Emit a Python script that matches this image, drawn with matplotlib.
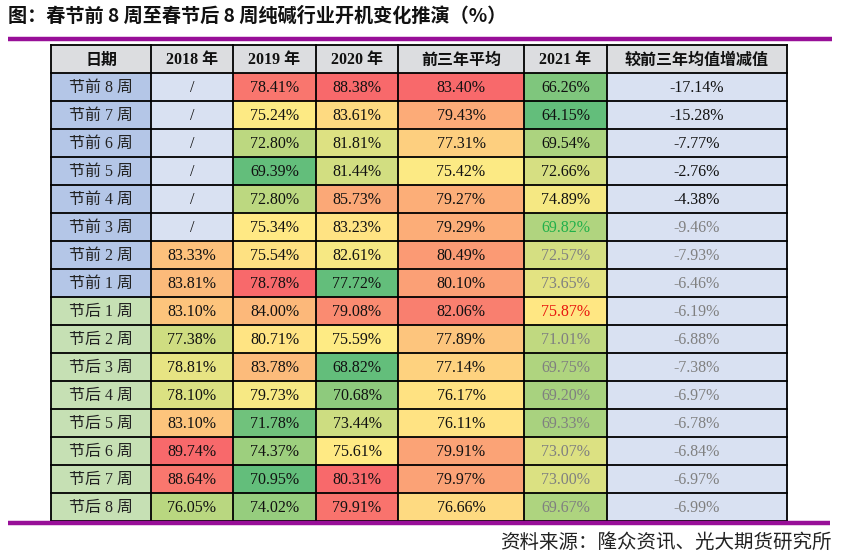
import numpy as np
import matplotlib
matplotlib.use("Agg")
import matplotlib.pyplot as plt
from matplotlib.patches import Rectangle
from matplotlib.colors import LinearSegmentedColormap

# ---------------- data ----------------
title = "图：春节前 8 周至春节后 8 周纯碱行业开机变化推演（%）"
source = "资料来源：隆众资讯、光大期货研究所"
headers = ["日期", "2018 年", "2019 年", "2020 年", "前三年平均", "2021 年", "较前三年均值增减值"]
weeks = ["节前 8 周", "节前 7 周", "节前 6 周", "节前 5 周", "节前 4 周", "节前 3 周", "节前 2 周", "节前 1 周",
         "节后 1 周", "节后 2 周", "节后 3 周", "节后 4 周", "节后 5 周", "节后 6 周", "节后 7 周", "节后 8 周"]
y2018 = [None, None, None, None, None, None, 83.33, 83.81, 83.10, 77.38, 78.81, 78.10, 83.10, 89.74, 88.64, 76.05]
y2019 = [78.41, 75.24, 72.80, 69.39, 72.80, 75.34, 75.54, 78.78, 84.00, 80.71, 83.78, 79.73, 71.78, 74.37, 70.95, 74.02]
y2020 = [88.38, 83.61, 81.81, 81.44, 85.73, 83.23, 82.61, 77.72, 79.08, 75.59, 68.82, 70.68, 73.44, 75.61, 80.31, 79.91]
avg3 = [83.40, 79.43, 77.31, 75.42, 79.27, 79.29, 80.49, 80.10, 82.06, 77.89, 77.14, 76.17, 76.11, 79.91, 79.97, 76.66]
y2021 = [66.26, 64.15, 69.54, 72.66, 74.89, 69.82, 72.57, 73.65, 75.87, 71.01, 69.75, 69.20, 69.33, 73.07, 73.00, 69.67]
diff = [-17.14, -15.28, -7.77, -2.76, -4.38, -9.46, -7.93, -6.46, -6.19, -6.88, -7.38, -6.97, -6.78, -6.84, -6.97, -6.99]

# colour-scale groups (column index, row indices)
pre = list(range(0, 8))
post = list(range(8, 16))
groups = [
    [(1, [6, 7] + post), (2, post)],
    [(2, pre)],
    [(3, pre)],
    [(3, post)],
    [(4, pre + post), (5, pre + post)],
]

# ---------------- style ----------------
cols = [y2018, y2019, y2020, avg3, y2021]
col_x = [51, 151, 233, 316, 398, 524, 607, 787]
top, row_h = 45, 28.0
n_rows = len(weeks) + 1

cmap = LinearSegmentedColormap.from_list("ryg", ["#63BE7B", "#FFEB84", "#F8696B"])

SERIF = ["Liberation Serif", "Noto Sans CJK SC"]
CJK = ["Noto Sans CJK SC", "DejaVu Sans"]

fig = plt.figure(figsize=(8.42, 5.60), dpi=100)
ax = fig.add_axes([0, 0, 1, 1])
ax.set_xlim(0, 842)
ax.set_ylim(560, 0)
ax.axis("off")

# compute fill colours via per-group 3-colour scale (min / median / max)
fills = {}
for g in groups:
    vals = np.array([cols[c - 1][r] for c, rows in g for r in rows], dtype=float)
    vmin, vmed, vmax = vals.min(), np.percentile(vals, 50), vals.max()
    for c, rows in g:
        for r in rows:
            v = cols[c - 1][r]
            if v <= vmed:
                t = 0.5 * (v - vmin) / (vmed - vmin)
            else:
                t = 0.5 + 0.5 * (v - vmed) / (vmax - vmed)
            fills[(c, r)] = cmap(t)

def cell(x0, x1, y0, fc):
    ax.add_patch(Rectangle((x0, y0), x1 - x0, row_h, facecolor=fc, edgecolor="none", zorder=1))

# header
for j, h in enumerate(headers):
    cell(col_x[j], col_x[j + 1], top, "#DCDDE0")
    ax.text((col_x[j] + col_x[j + 1]) / 2, top + row_h / 2 + 1, h, ha="center", va="center",
            fontsize=11.5, fontweight="bold", family=SERIF if j in (1, 2, 3, 5) else CJK, color="#111111")

gray = "#808080"
for i, w in enumerate(weeks):
    y0 = top + row_h * (i + 1)
    yc = y0 + row_h / 2 + 1
    cell(col_x[0], col_x[1], y0, "#B4C6E7" if i < 8 else "#C6E0B4")
    ax.text((col_x[0] + col_x[1]) / 2, yc, w, ha="center", va="center", fontsize=11.5,
            family=SERIF, color="#222222")
    for c in range(1, 6):
        v = cols[c - 1][i]
        x0, x1 = col_x[c], col_x[c + 1]
        if v is None:
            cell(x0, x1, y0, "#D9E1F2")
            ax.text((x0 + x1) / 2, yc, "/", ha="center", va="center", fontsize=11.5, family=SERIF, color="#111111")
            continue
        cell(x0, x1, y0, fills[(c, i)])
        tc = "#111111"
        if c == 5 and i >= 5:
            tc = gray
            if i == 5:
                tc = "#22B04A"
            if i == 8:
                tc = "#E8170F"
        ax.text((x0 + x1) / 2, yc, f"{v:.2f}%", ha="center", va="center", fontsize=11.5,
                family=SERIF, color=tc)
    cell(col_x[6], col_x[7], y0, "#D9E1F2")
    ax.text((col_x[6] + col_x[7]) / 2, yc, f"{diff[i]:.2f}%", ha="center", va="center", fontsize=11.5,
            family=SERIF, color="#111111" if i < 5 else gray)

# grid lines
bottom = top + row_h * n_rows
for x in col_x:
    ax.plot([x, x], [top, bottom], color="black", lw=1.3, zorder=3, solid_capstyle="projecting")
for k in range(n_rows + 1):
    yy = top + row_h * k
    ax.plot([col_x[0], col_x[-1]], [yy, yy], color="black", lw=1.3, zorder=3, solid_capstyle="projecting")

# title, purple rules, source
ax.text(8, 16, title, ha="left", va="center", fontsize=13.8, fontweight="heavy", family=CJK, color="#111111")
ax.plot([8, 832], [38.5, 38.5], color="#980F98", lw=3.2, zorder=4, solid_capstyle="butt")
ax.plot([8, 830], [523, 523], color="#980F98", lw=3.2, zorder=4, solid_capstyle="butt")
ax.text(832, 542, source, ha="right", va="center", fontsize=14, family=CJK, color="#222222")

fig.savefig("out.png", dpi=100)
